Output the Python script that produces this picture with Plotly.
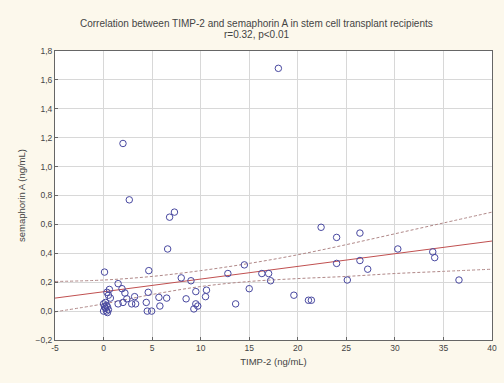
import plotly.graph_objects as go

# Scatter data: TIMP-2 (ng/mL) vs semaphorin A (ng/mL)
timp2 = [18.0, 2.0, 2.65, 7.3, 6.8, 6.6,
         0.1, 4.66, 8.0, 9.0, 1.5, 0.6, 1.9, 2.2, 4.6, 0.5, 3.2, 5.7, 6.5, 8.5,
         1.5, 2.0, 2.9, 3.3, 4.4, 5.8, 4.5, 4.95, 0.7, 0.35, 2.4,
         0.0, 0.2, 0.3, 0.2, 0.4, 0.1, 0.5, 0.3, 0.0, 0.4,
         9.5, 10.6, 10.5, 15.0, 9.5, 9.7, 9.3, 13.6, 12.8, 14.5, 16.3, 17.0, 17.2,
         22.4, 24.0, 24.0, 26.4, 26.4, 27.2, 25.1, 30.3, 33.9, 34.1, 36.6,
         19.6, 21.1, 21.4]
semaA = [1.68, 1.16, 0.77, 0.685, 0.65, 0.43,
         0.27, 0.28, 0.23, 0.21, 0.19, 0.15, 0.155, 0.125, 0.13, 0.11, 0.10, 0.095, 0.09, 0.085,
         0.05, 0.06, 0.05, 0.05, 0.06, 0.035, 0.0, 0.0, 0.09, 0.13, 0.085,
         0.0, 0.02, 0.04, 0.06, -0.01, 0.03, 0.01, 0.0, 0.05, 0.03,
         0.135, 0.145, 0.10, 0.155, 0.05, 0.035, 0.015, 0.05, 0.26, 0.32, 0.26, 0.26, 0.21,
         0.58, 0.51, 0.33, 0.54, 0.35, 0.29, 0.215, 0.43, 0.41, 0.37, 0.215,
         0.11, 0.075, 0.075]

# Regression line and 95% confidence band
fit_x = [-5, 0, 5, 10, 15, 20, 25, 30, 35, 40]
fit_y = [0.09, 0.134, 0.178, 0.222, 0.266, 0.310, 0.354, 0.398, 0.441, 0.485]
band_upper = [0.205, 0.215, 0.24, 0.28, 0.33, 0.39, 0.46, 0.535, 0.61, 0.685]
band_lower = [-0.005, 0.05, 0.115, 0.17, 0.205, 0.225, 0.24, 0.26, 0.275, 0.29]

x_ticks = [-5, 0, 5, 10, 15, 20, 25, 30, 35, 40]
y_ticks = [-0.2, 0.0, 0.2, 0.4, 0.6, 0.8, 1.0, 1.2, 1.4, 1.6, 1.8]

title_line1 = "Correlation between TIMP-2 and semaphorin A in stem cell transplant recipients"
title_line2 = "r=0.32, p<0.01"

FONT = "Liberation Sans, Arial, sans-serif"
TXT = "#444444"

fig = go.Figure()
fig.add_trace(go.Scatter(x=fit_x, y=band_upper, mode="lines", line_shape="spline",
                         line=dict(color="#b08888", width=1, dash="3px,2px"),
                         hoverinfo="skip", showlegend=False))
fig.add_trace(go.Scatter(x=fit_x, y=band_lower, mode="lines", line_shape="spline",
                         line=dict(color="#b08888", width=1, dash="3px,2px"),
                         hoverinfo="skip", showlegend=False))
fig.add_trace(go.Scatter(x=fit_x, y=fit_y, mode="lines",
                         line=dict(color="#c05050", width=1),
                         showlegend=False))
fig.add_trace(go.Scatter(x=timp2, y=semaA, mode="markers",
                         marker=dict(symbol="circle-open", size=6.5,
                                     color="#4848a0", line=dict(width=1, color="#4848a0")),
                         showlegend=False))

fig.update_layout(
    width=504, height=383,
    margin=dict(l=55, r=7, t=51, b=43),
    paper_bgcolor="#fcf8ec",
    plot_bgcolor="#ffffff",
    separators=",.",
    font=dict(family=FONT, size=8.5, color=TXT),
)
fig.add_annotation(text=title_line1, xref="paper", yref="paper", x=0.46, y=1.0,
                   yshift=28, yanchor="middle", showarrow=False, xanchor="center",
                   font=dict(size=10, color=TXT, family=FONT))
fig.add_annotation(text=title_line2, xref="paper", yref="paper", x=0.46, y=1.0,
                   yshift=17, yanchor="middle", showarrow=False, xanchor="center",
                   font=dict(size=10, color=TXT, family=FONT))

fig.update_xaxes(range=[-5, 40], tickvals=x_ticks, ticktext=[str(v) for v in x_ticks],
                 showgrid=True, gridcolor="#d8d8d8", gridwidth=1,
                 zeroline=False, showline=True, linecolor="#666666", linewidth=1,
                 mirror=True, ticks="inside", ticklen=3, tickcolor="#666666",
                 title=dict(text="TIMP-2 (ng/mL)", font=dict(size=9.5, color=TXT), standoff=6),
                 tickfont=dict(size=8.5, color=TXT))
fig.update_yaxes(range=[-0.2, 1.8], tickvals=y_ticks, tickformat=".1f",
                 showgrid=True, gridcolor="#d8d8d8", gridwidth=1,
                 zeroline=False, showline=True, linecolor="#666666", linewidth=1,
                 mirror=True, ticks="inside", ticklen=3, tickcolor="#666666",
                 title=dict(text="semaphorin A (ng/mL)", font=dict(size=9.5, color=TXT), standoff=8),
                 tickfont=dict(size=8.5, color=TXT))

fig.write_html("out.html")
